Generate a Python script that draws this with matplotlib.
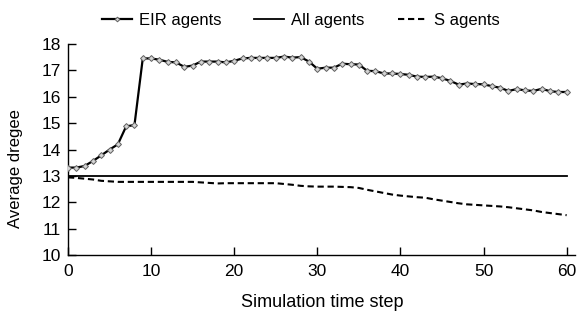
import numpy as np
import matplotlib
matplotlib.use("Agg")
import matplotlib.pyplot as plt

plt.rcParams['font.family'] = ['Liberation Sans', 'DejaVu Sans']

steps = list(range(61))
eir_agents = [13.32, 13.32, 13.38, 13.57, 13.78, 14.0, 14.2, 14.88, 14.93, 17.45,
              17.45, 17.4, 17.32, 17.3, 17.13, 17.18, 17.33, 17.33, 17.33, 17.3,
              17.36, 17.45, 17.47, 17.47, 17.47, 17.47, 17.52, 17.48, 17.5, 17.33,
              17.06, 17.1, 17.1, 17.25, 17.23, 17.22, 16.98, 16.97, 16.88, 16.88,
              16.86, 16.83, 16.76, 16.75, 16.76, 16.7, 16.6, 16.46, 16.5, 16.48,
              16.47, 16.4, 16.34, 16.22, 16.29, 16.24, 16.22, 16.3, 16.21, 16.18,
              16.18]
all_agents = [13.0] * 61
s_agents = [12.95, 12.93, 12.9, 12.87, 12.82, 12.8, 12.78, 12.78, 12.78, 12.78,
            12.78, 12.78, 12.78, 12.78, 12.78, 12.78, 12.76, 12.74, 12.72, 12.73,
            12.73, 12.73, 12.73, 12.73, 12.73, 12.73, 12.7, 12.67, 12.63, 12.61,
            12.6, 12.6, 12.6, 12.59, 12.58, 12.55, 12.48, 12.42, 12.36, 12.3,
            12.26, 12.23, 12.2, 12.18, 12.12, 12.07, 12.02, 11.97, 11.93, 11.91,
            11.89, 11.87, 11.85, 11.82, 11.78, 11.74, 11.7, 11.64, 11.6, 11.56,
            11.52]
series_labels = ["EIR agents", "All agents", "S agents"]
xticks = [0, 10, 20, 30, 40, 50, 60]
yticks = [10, 11, 12, 13, 14, 15, 16, 17, 18]

fig = plt.figure(figsize=(5.79, 3.18), dpi=100)
ax = fig.add_axes([0.1174, 0.197, 0.8756, 0.665])

ax.plot(steps, eir_agents, color='black', lw=1.6, marker='D', markersize=3.0,
        markerfacecolor='#d4d4d4', markeredgecolor='#606060', markeredgewidth=0.7,
        label=series_labels[0], zorder=3)
ax.plot(steps, all_agents, color='black', lw=1.3, label=series_labels[1])
ax.plot(steps, s_agents, color='black', lw=1.5, ls=(0, (3, 1.8)), label=series_labels[2])

ax.set_xlim(0, 61)
ax.set_ylim(10, 18)
ax.set_xticks(xticks)
ax.set_yticks(yticks)
for s in ['top', 'right']:
    ax.spines[s].set_visible(False)
for s in ['left', 'bottom']:
    ax.spines[s].set_linewidth(1.0)
ax.tick_params(direction='in', length=6, width=1.0, labelsize=12.5)
ax.tick_params(axis='x', pad=6)
ax.tick_params(axis='y', pad=5)

fig.text(0.557, 0.048, "Simulation time step", ha='center', va='center', fontsize=13)
fig.text(0.027, 0.47, "Average dregee", ha='center', va='center', rotation=90, fontsize=12)

handles, labels = ax.get_legend_handles_labels()
fig.legend(handles, labels, loc='center', bbox_to_anchor=(0.52, 0.937), ncol=3,
           frameon=False, fontsize=12, handlelength=1.8, handletextpad=0.4,
           columnspacing=2.0, markerscale=0.8)

fig.savefig("out.png", dpi=100)
